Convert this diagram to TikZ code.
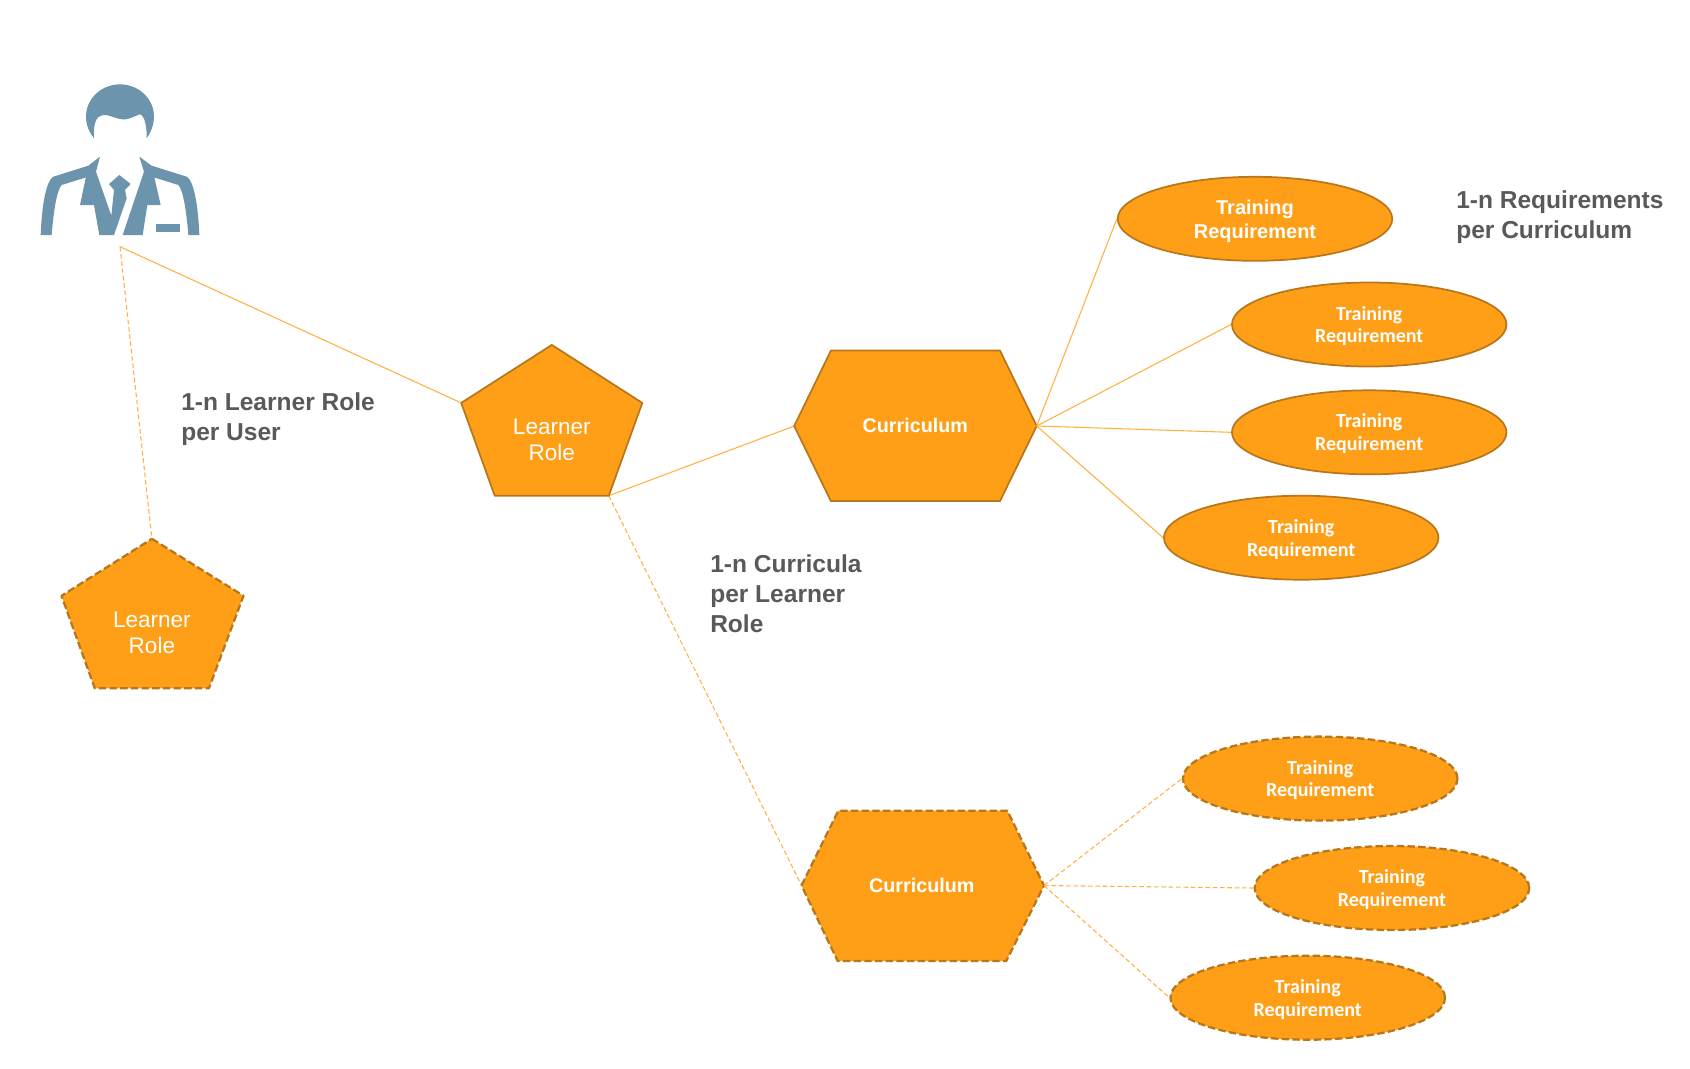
\documentclass[tikz,border=0pt]{standalone}
\usepackage{fontspec}
\setmainfont{Liberation Sans}
\newfontfamily\carlito{Carlito}
\usepackage{xcolor}
\usepackage{tikz}
\usetikzlibrary{shapes.geometric}
\definecolor{fillorange}{HTML}{FF9F17}
\definecolor{edgeorange}{HTML}{B8771A}
\definecolor{lineorange}{HTML}{FFB143}
\definecolor{slate}{HTML}{6D94AD}
\definecolor{labgrey}{HTML}{595959}
\tikzset{
  shapebase/.style={fill=fillorange, draw=edgeorange, line width=1.3pt, line join=round},
  shapedash/.style={fill=fillorange, draw=edgeorange, line width=1.7pt, dash pattern=on 5.5pt off 2.5pt, line join=round},
  link/.style={draw=lineorange, line width=0.8pt},
  linkdash/.style={draw=lineorange, line width=0.8pt, dash pattern=on 3.5pt off 2pt},
  reqbase/.style={ellipse, shapebase, inner sep=0pt, text depth=0pt, minimum width=205.9pt, minimum height=63pt, align=center, text=white},
  reqdash/.style={ellipse, shapedash, inner sep=0pt, text depth=0pt, minimum width=205.9pt, minimum height=63pt, align=center, text=white},
  reqfont/.style={font=\carlito\bfseries\fontsize{15}{17}\selectfont},
  roletxt/.style={text=white, align=center, inner sep=0pt, font=\fontsize{16.9}{19.5}\selectfont},
  currtxt/.style={text=white, inner sep=0pt, font=\bfseries\fontsize{14.8}{18}\selectfont},
  lab/.style={text=labgrey, anchor=west, align=left, inner sep=0pt, font=\bfseries\fontsize{18.4}{22.3}\selectfont},
}
\begin{document}
\begin{tikzpicture}[x=0.75pt, y=-0.75pt]
  \useasboundingbox (0,0) rectangle (1690,1068);
  % person
  \begin{scope}[shift={(0,50)}, x=0.25pt, y=-0.25pt]
    \fill[slate] (282,265) .. controls (268,248) and (258,225) .. (258,200) .. controls (258,145) and (305,103) .. (360,103)
      .. controls (415,103) and (462,145) .. (462,200) .. controls (462,225) and (452,248) .. (440,265)
      .. controls (441,240) and (436,193) .. (418,193) .. controls (400,200) and (385,212) .. (360,207)
      .. controls (340,203) and (325,193) .. (308,195) .. controls (288,197) and (279,225) .. (282,265) -- cycle;
    \fill[slate] (122,555) .. controls (125,470) and (138,392) .. (160,380) -- (265,347) -- (275,377) -- (185,405)
      .. controls (170,420) and (160,490) .. (155,555) -- cycle;
    \fill[slate] (598,555) .. controls (595,470) and (582,392) .. (560,380) -- (455,347) -- (445,377) -- (535,405)
      .. controls (550,420) and (560,490) .. (565,555) -- cycle;
    \fill[slate] (300,320) -- (265,347) -- (240,465) -- (282,465) -- (298,555) -- (342,555) -- (380,445) -- (375,420)
      -- (392,402) -- (358,375) -- (327,402) -- (342,420) -- (334,497) -- (288,365) -- cycle;
    \fill[slate] (418,320) -- (432,365) -- (368,555) -- (428,555) -- (442,465) -- (482,465) -- (455,347) -- cycle;
    \fill[slate] (467,523) rectangle (541,545);
  \end{scope}
  \coordinate (person) at (120,246.7);
  % pentagons
  \coordinate (roleA-t) at (551.8,344.9);
  \coordinate (roleA-r) at (642.3,402.9);
  \coordinate (roleA-br) at (608.8,495.7);
  \coordinate (roleA-bl) at (494.7,495.7);
  \coordinate (roleA-l) at (461.2,402.9);
  \coordinate (roleB-t) at (151.9,538.8);
  \coordinate (roleB-r) at (243.5,595.8);
  \coordinate (roleB-br) at (208.9,688.3);
  \coordinate (roleB-bl) at (94.8,688.3);
  \coordinate (roleB-l) at (61.5,595.8);
  % hexagons
  \coordinate (currA-l) at (794.2,426);
  \coordinate (currA-tl) at (830.9,350.6);
  \coordinate (currA-tr) at (1000,350.6);
  \coordinate (currA-r) at (1036.7,426);
  \coordinate (currA-br) at (1000,501.1);
  \coordinate (currA-bl) at (830.9,501.1);
  \coordinate (currB-l) at (801.5,885.5);
  \coordinate (currB-tl) at (838.3,810.7);
  \coordinate (currB-tr) at (1007.3,810.7);
  \coordinate (currB-r) at (1044,885.5);
  \coordinate (currB-br) at (1006.3,961);
  \coordinate (currB-bl) at (837.7,961);

  \draw[link] (person) -- (roleA-l);
  \draw[linkdash] (person) -- (roleB-t);
  \draw[link] (roleA-br) -- (currA-l);
  \draw[linkdash] (roleA-br) -- (currB-l);

  \draw[shapebase] (roleA-t) -- (roleA-r) -- (roleA-br) -- (roleA-bl) -- (roleA-l) -- cycle;
  \draw[shapedash] (roleB-t) -- (roleB-r) -- (roleB-br) -- (roleB-bl) -- (roleB-l) -- cycle;
  \draw[shapebase] (currA-l) -- (currA-tl) -- (currA-tr) -- (currA-r) -- (currA-br) -- (currA-bl) -- cycle;
  \draw[shapedash] (currB-l) -- (currB-tl) -- (currB-tr) -- (currB-r) -- (currB-br) -- (currB-bl) -- cycle;

  \node[roletxt] (roleAtxt) at (551.8,439.7) {Learner\\Role};
  \node[roletxt] (roleBtxt) at (151.9,632.8) {Learner\\Role};
  \node[currtxt] (currAtxt) at (915.3,425.7) {Curriculum};
  \node[currtxt] (currBtxt) at (921.8,885.8) {Curriculum};

  % requirements
  \node[reqbase, font=\bfseries\fontsize{15}{18}\selectfont] (reqA) at (1255,218.8) {Training\\Requirement};
  \node[reqbase, reqfont] (reqB) at (1369.2,324.5) {Training\\Requirement};
  \node[reqbase, reqfont] (reqC) at (1369.2,432.3) {Training\\Requirement};
  \node[reqbase, reqfont] (reqD) at (1301.2,537.7) {Training\\Requirement};
  \node[reqdash, reqfont] (reqE) at (1320.2,778.6) {Training\\Requirement};
  \node[reqdash, reqfont] (reqF) at (1391.9,888) {Training\\Requirement};
  \node[reqdash, reqfont] (reqG) at (1307.7,997.7) {Training\\Requirement};

  \foreach \r in {reqA,reqB,reqC,reqD}
    \draw[link] (currA-r) -- (\r.west);
  \foreach \r in {reqE,reqF,reqG}
    \draw[linkdash] (currB-r) -- (\r.west);

  \node[lab] (labRole) at (181,419) {1-n Learner Role\\per User};
  \node[lab] (labCurr) at (710,593.8) {1-n Curricula\\per Learner\\Role};
  \node[lab] (labReq) at (1456,216.8) {1-n Requirements\\per Curriculum};
\end{tikzpicture}
\end{document}
